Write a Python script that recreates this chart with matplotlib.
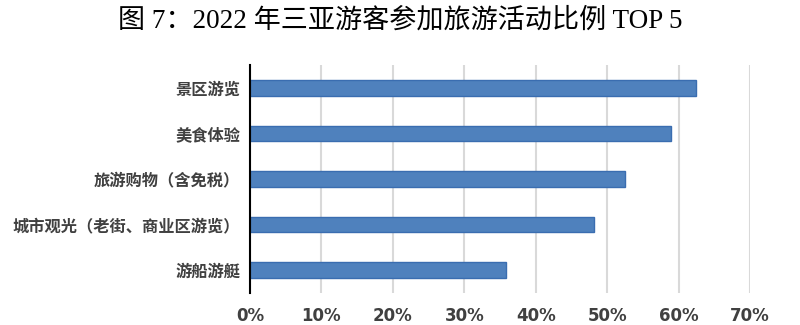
import matplotlib.pyplot as plt
from matplotlib.ticker import PercentFormatter

plt.rcParams['font.family'] = ['Noto Sans CJK SC', 'DejaVu Sans']

# 数据
categories = ["景区游览", "美食体验", "旅游购物（含免税）", "城市观光（老街、商业区游览）", "游船游艇"]
values = [62.4, 58.9, 52.5, 48.1, 35.8]
xticks = [0, 10, 20, 30, 40, 50, 60, 70]

fig = plt.figure(figsize=(8, 3.25), dpi=100)
ax = fig.add_axes([250 / 800, 1 - 293 / 325, 500 / 800, 228 / 325])

ypos = list(range(len(categories)))[::-1]
ax.barh(ypos, values, height=0.34, color="#4F81BD", edgecolor="#3A6DB0", linewidth=1, zorder=3)

ax.set_xlim(0, 70)
ax.set_ylim(-0.5, 4.5)
ax.set_xticks(xticks)
ax.xaxis.set_major_formatter(PercentFormatter(decimals=0))
ax.set_yticks(ypos)
ax.set_yticklabels(categories)

ax.grid(axis="x", color="#D9D9D9", linewidth=1.5, zorder=0)
for s in ["top", "right", "bottom"]:
    ax.spines[s].set_visible(False)
ax.spines["left"].set_linewidth(1.5)
ax.spines["left"].set_color("black")
ax.spines["left"].set_zorder(4)
ax.tick_params(axis="both", length=0)
ax.tick_params(axis="y", pad=7)
ax.tick_params(axis="x", pad=10)

for lbl in ax.get_yticklabels():
    lbl.set_fontsize(11.7)
    lbl.set_fontweight("bold")
    lbl.set_color("#404040")
for lbl in ax.get_xticklabels():
    lbl.set_fontsize(12)
    lbl.set_fontweight("bold")
    lbl.set_color("#404040")
    lbl.set_family(["DejaVu Sans"])

fig.text(0.5, 0.935, "图 7：2022 年三亚游客参加旅游活动比例 TOP 5",
         ha="center", va="center", fontsize=19.5,
         family=["Liberation Serif", "Noto Sans CJK SC"], color="black")

fig.savefig("out.png", dpi=100)
